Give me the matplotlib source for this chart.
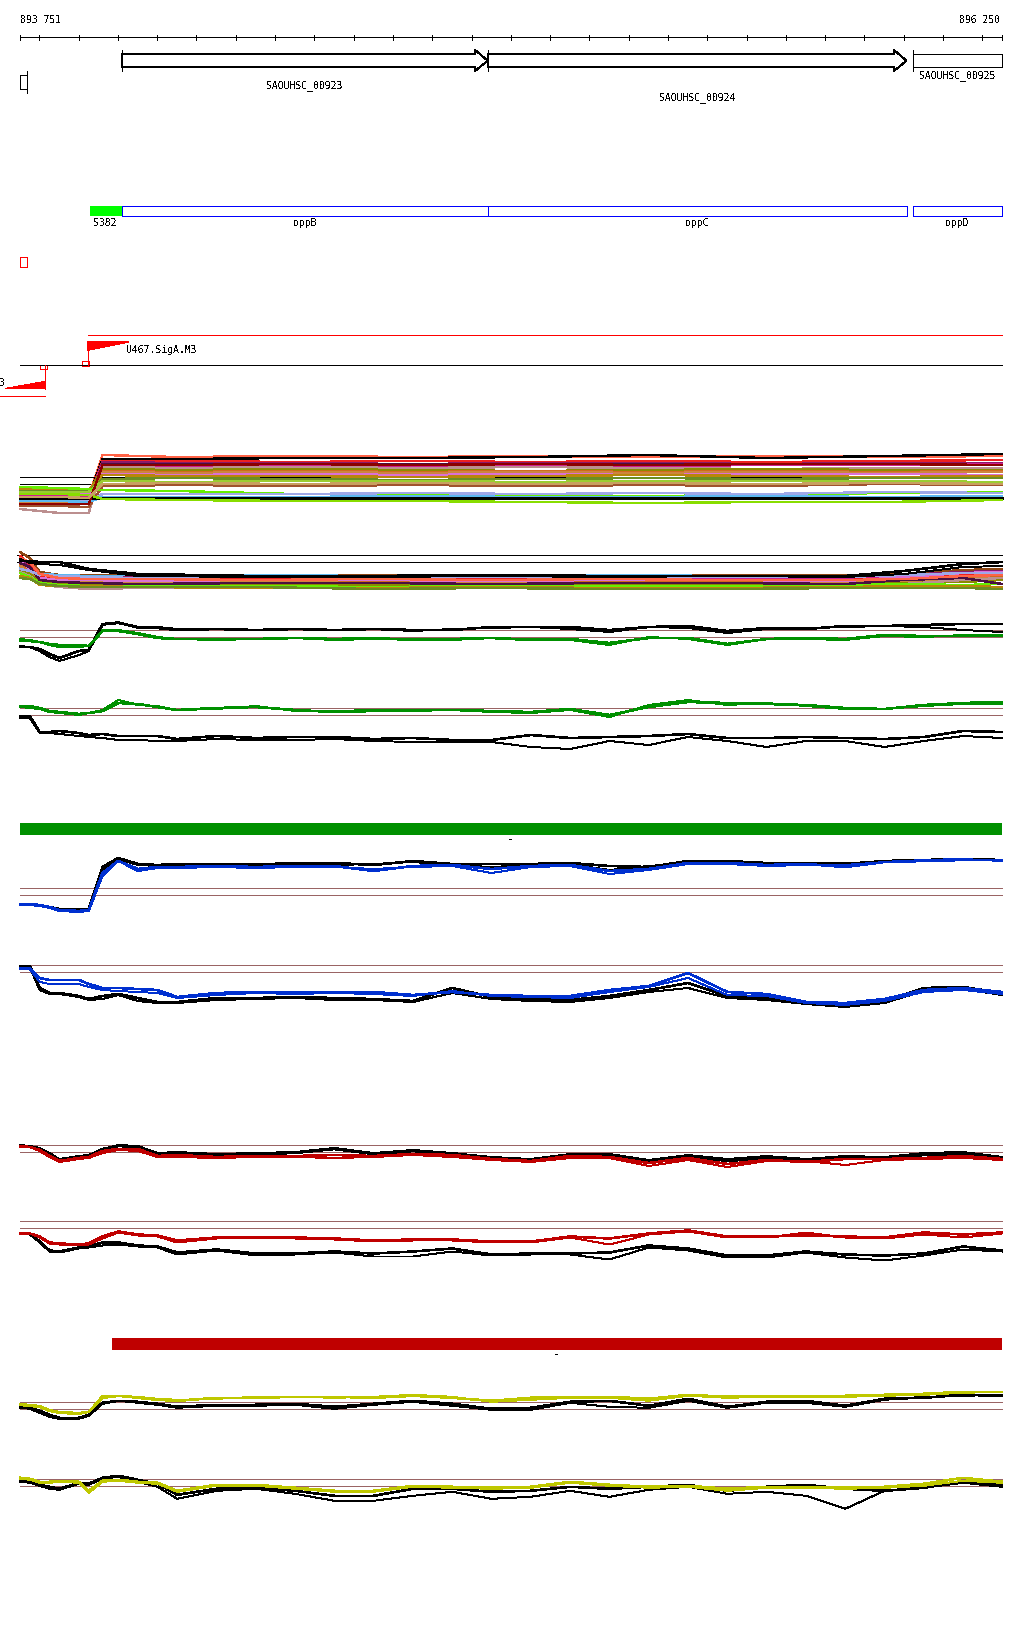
#!/usr/bin/env python3
"""Genome browser view of the opp operon region (893 751 - 896 250)."""
import matplotlib
matplotlib.use("Agg")
import matplotlib.pyplot as plt
from matplotlib.patches import Polygon, Rectangle

plt.rcParams["lines.antialiased"] = False
plt.rcParams["patch.antialiased"] = False
plt.rcParams["text.antialiased"] = False

# ---------------------------------------------------------------- data
START, END = 893751, 896250
TICKS = list(range(893800, 896250, 100))

GENE_NAMES = ["SAOUHSC_00923", "SAOUHSC_00924", "SAOUHSC_00925"]
GENE_STARTS = [894011, 894941, 896024]
GENE_ENDS = [894941, 896007, 896250]

OPERON_NAMES = ["S382", "oppB", "oppC", "oppD"]
OPERON_STARTS = [893929, 894011, 894941, 896024]
OPERON_ENDS = [894011, 894941, 896007, 896250]

TSS_FWD, TSS_FWD_NAME = 893924, "U467.SigA.M3"
TSS_REV, TSS_REV_NAME = 893814, "3"

GREEN_BAR = (893751, 896250)
RED_BAR = (893985, 896250)

# relative positions (bp from START) of the coverage profile samples
GRID = [0, 25, 50, 75, 100, 150, 175, 210, 250, 300, 350, 400, 500, 600, 700,
        800, 900, 1000, 1100, 1200, 1300, 1400, 1500, 1600, 1700, 1800, 1900,
        2000, 2100, 2200, 2300, 2400, 2499]
GRID1 = [0, 100, 175, 210, 400, 700, 1000, 1300, 1600, 1900, 2200, 2499]
GRID2 = [0, 25, 50, 100, 175, 300, 600, 900, 1200, 1500, 1800, 2100, 2250, 2400, 2499]

# track 1: all-condition profiles
T1_LINES = [
    [-16, -17, -17, 25, 23, 24, 23, 24, 23, 24, 23, 24],
    [-16, -16, -17, 21, 21, 22, 22, 23, 25, 22, 24, 26],
    [-18, -18, -19, 19, 19, 18, 19, 18, 19, 18, 19, 20],
    [-19, -19, -20, 18, 17, 17, 16, 17, 17, 16, 17, 17],
    [-20, -20, -21, 16, 16, 15, 16, 15, 16, 15, 16, 16],
    [-16, -16, -17, 15, 14, 15, 14, 15, 14, 15, 15, 16],
    [-29, -33, -33, 13, 12, 13, 12, 13, 12, 11, 12, 12],
    [-12, -12, -12, 11, 10, 11, 10, 9, 10, 11, 10, 10],
    [-22, -22, -22, 9, 8, 9, 8, 9, 8, 9, 8, 9],
    [-22, -22, -23, 8, 7, 8, 7, 8, 7, 8, 7, 8],
    [-14, -14, -14, 6, 5, 6, 5, 6, 5, 6, 6, 5],
    [-9, -9, -10, 5, 4, 4, 3, 4, 5, 4, 3, 4],
    [-11, -11, -11, 1, 2, 1, 0, 1, 2, 1, 2, 2],
    [-12, -12, -12, -1, -2, -1, -1, -2, -1, -1, -1, -2],
    [-26, -26, -27, -6, -5, -6, -5, -6, -5, -6, -4, -5],
    [-7, -8, -9, -10, -11, -14, -15, -16, -16, -15, -13, -12],
    [-21, -21, -21, -14, -14, -14, -13, -14, -13, -14, -12, -13],
    [-21, -21, -22, -17, -17, -17, -16, -17, -17, -16, -17, -16],
    [-18, -18, -18, -18, -18, -18, -18, -18, -18, -18, -18, -18],
    [-14, -14, -15, -19, -20, -21, -21, -22, -23, -22, -22, -20],
    [-24, -24, -24, 15, 15, 16, 15, 16, 15, 16, 16, 15],
    [-17, -17, -18, -4, -3, -4, -3, -4, -3, -4, -3, -4],
]

# track 2: all-condition profiles (second set)
T2_LINES = [
    [6, 0, -14, -17, -17, -18, -17, -17, -18, -17, -17, -17, -16, -12, -11],
    [-10, -12, -16, -17, -18, -18, -17, -18, -17, -17, -18, -18, -18, -17, -17],
    [-2, -8, -18, -19, -20, -19, -19, -19, -20, -19, -19, -20, -17, -14, -13],
    [-4, -10, -19, -21, -21, -21, -20, -21, -21, -20, -21, -21, -18, -16, -15],
    [2, -6, -18, -20, -22, -22, -21, -22, -21, -22, -22, -22, -20, -17, -16],
    [-6, -14, -21, -23, -23, -23, -24, -23, -23, -24, -23, -24, -22, -19, -18],
    [-8, -15, -22, -24, -24, -25, -24, -25, -24, -25, -25, -24, -23, -21, -20],
    [-12, -16, -24, -25, -26, -26, -27, -27, -26, -27, -27, -26, -25, -24, -22],
    [-14, -18, -26, -29, -31, -30, -28, -29, -28, -29, -29, -28, -26, -22, -20],
    [-3, -11, -20, -22, -22, -23, -22, -22, -23, -22, -22, -23, -19, -15, -14],
    [-15, -19, -25, -27, -28, -28, -28, -29, -28, -28, -28, -27, -26, -27, -26],
    [-18, -20, -27, -28, -28, -29, -30, -30, -29, -30, -30, -29, -28, -28, -29],
    [-20, -21, -26, -28, -29, -29, -29, -31, -30, -31, -31, -30, -30, -30, -31],
    [-5, -9, -22, -24, -25, -26, -25, -25, -26, -25, -25, -26, -22, -20, -26],
    [-11, -13, -17, -18, -19, -20, -19, -19, -19, -20, -19, -19, -17, -15, -15],
    [0, -4, -16, -20, -21, -21, -22, -21, -22, -21, -22, -22, -21, -18, -17],
]
T2_BLACK = [
    [-3, -3, -4, -4, -11, -16, -18, -18, -17, -18, -18, -18, -13, -6, -4],
    [-1, -5, -6, -7, -12, -18, -19, -19, -18, -19, -18, -19, -16, -9, -8],
]

# paired replicate profiles (condition colour, black reference)
T3_BLACK = [
    [-14, -14, -16, -21, -25, -18, -17, 9, 10, 6, 5, 3, 4, 3, 4, 3, 4, 3, 3, 6, 6, 6, 3, 6, 7, 2, 5, 4, 7, 7, 8, 9, 9],
    [-13, -14, -18, -24, -28, -22, -18, 8, 11, 5, 6, 4, 4, 3, 4, 3, 4, 2, 4, 5, 6, 4, 1, 6, 5, 0, 4, 5, 6, 7, 6, 3, 1],
]
T3_GREEN = [
    [-8, -8, -9, -11, -12, -12, -13, 2, 2, -1, -5, -6, -6, -6, -5, -6, -5, -7, -6, -5, -7, -6, -10, -5, -5, -11, -6, -5, -6, -2, -3, -3, -3],
    [-6, -7, -9, -12, -14, -14, -13, 3, 3, 0, -4, -6, -7, -6, -5, -7, -6, -6, -7, -5, -6, -7, -12, -4, -6, -12, -6, -6, -7, -3, -4, -2, -2],
]
T4_BLACK = [
    [-5, -5, -21, -21, -20, -22, -24, -23, -25, -25, -25, -28, -25, -27, -26, -26, -28, -27, -29, -29, -24, -27, -26, -25, -23, -27, -27, -26, -27, -28, -26, -20, -21],
    [-7, -7, -22, -22, -23, -25, -26, -27, -29, -29, -30, -30, -28, -29, -29, -28, -30, -31, -31, -31, -36, -38, -30, -34, -26, -30, -36, -30, -30, -36, -30, -25, -27],
]
T4_GREEN = [
    [5, 5, 3, 0, -1, -3, -2, 0, 8, 7, 4, 1, 3, 4, 1, -1, 0, 1, 1, 0, -1, 2, -4, 4, 9, 8, 7, 6, 3, 2, 6, 8, 9],
    [4, 3, 2, -1, -2, -4, -2, 1, 11, 6, 5, 1, 2, 5, 0, 0, 1, 0, 1, -1, -2, 1, -6, 6, 11, 6, 8, 5, 2, 2, 5, 7, 7],
]
T5_BLACK = [
    [-13, -13, -14, -16, -18, -18, -18, 24, 33, 27, 26, 27, 27, 26, 27, 28, 26, 30, 27, 27, 27, 28, 25, 24, 30, 30, 28, 28, 27, 30, 31, 32, 31],
    [-14, -14, -15, -17, -19, -19, -19, 20, 32, 26, 25, 26, 26, 27, 28, 26, 27, 29, 26, 24, 26, 27, 21, 25, 28, 29, 27, 26, 28, 29, 30, 32, 30],
]
T5_BLUE = [
    [-13, -13, -14, -16, -19, -20, -19, 18, 30, 22, 24, 24, 25, 24, 25, 25, 20, 25, 26, 22, 25, 26, 20, 22, 28, 28, 26, 27, 24, 29, 30, 31, 31],
    [-14, -14, -15, -17, -20, -21, -20, 15, 30, 20, 23, 23, 24, 23, 24, 24, 22, 24, 25, 18, 24, 25, 17, 21, 27, 27, 25, 26, 26, 29, 31, 32, 30],
]
T6_BLACK = [
    [2, 2, -20, -25, -25, -28, -31, -28, -26, -30, -34, -34, -30, -30, -29, -30, -31, -33, -20, -29, -31, -32, -28, -22, -15, -28, -30, -35, -38, -33, -20, -19, -25],
    [1, 1, -22, -26, -26, -29, -32, -31, -27, -33, -35, -35, -32, -31, -30, -32, -32, -34, -25, -31, -33, -34, -30, -24, -20, -30, -32, -36, -39, -35, -23, -21, -27],
]
T6_BLUE = [
    [0, 0, -10, -12, -12, -12, -16, -20, -20, -21, -22, -29, -25, -24, -24, -24, -24, -27, -24, -27, -28, -28, -22, -18, -5, -24, -26, -34, -35, -31, -22, -20, -24],
    [-1, -1, -14, -16, -16, -16, -19, -22, -23, -24, -25, -30, -27, -25, -26, -25, -26, -28, -23, -28, -29, -30, -24, -19, -10, -27, -28, -35, -37, -33, -24, -22, -26],
]
T7_BLACK = [
    [2, 2, -1, -6, -12, -9, -8, -1, 2, 1, -6, -5, -7, -6, -5, -1, -6, -3, -6, -10, -12, -7, -7, -14, -8, -13, -10, -13, -9, -10, -7, -6, -10],
    [3, 2, 0, -5, -11, -8, -7, -1, 3, 2, -5, -4, -6, -5, -4, 0, -5, -2, -5, -9, -11, -6, -6, -12, -7, -11, -8, -11, -8, -9, -5, -4, -9],
]
T7_RED = [
    [2, 1, -2, -8, -13, -10, -9, -3, -1, -1, -8, -7, -9, -8, -8, -7, -8, -6, -7, -11, -13, -8, -9, -15, -10, -16, -12, -14, -11, -11, -10, -8, -11],
    [1, 1, -3, -9, -14, -11, -10, -5, -2, -3, -9, -9, -10, -9, -9, -10, -9, -7, -9, -12, -14, -10, -10, -18, -12, -19, -13, -13, -17, -12, -11, -10, -12],
]
T8_BLACK = [
    [-9, -9, -17, -26, -27, -23, -22, -18, -18, -21, -22, -28, -25, -29, -29, -27, -29, -27, -24, -30, -29, -29, -28, -21, -24, -31, -31, -27, -30, -31, -29, -22, -26],
    [-9, -10, -18, -27, -28, -24, -23, -21, -20, -22, -23, -30, -26, -31, -30, -28, -32, -32, -27, -31, -30, -30, -35, -23, -26, -33, -33, -28, -33, -36, -31, -25, -27],
]
T8_RED = [
    [-9, -9, -12, -18, -19, -20, -19, -12, -7, -10, -11, -16, -13, -13, -13, -14, -16, -15, -15, -17, -17, -12, -14, -9, -6, -12, -12, -11, -12, -13, -8, -10, -8],
    [-9, -9, -13, -19, -20, -21, -20, -14, -8, -11, -12, -18, -14, -13, -14, -15, -17, -16, -16, -18, -18, -13, -20, -10, -7, -13, -13, -8, -13, -14, -10, -13, -9],
]
T9_BLACK = [
    [-1, -2, -5, -9, -12, -12, -9, 3, 5, 4, 2, -1, 1, 1, 2, -1, 2, 5, 2, -3, -2, 4, 5, 0, 7, -1, 4, 5, 0, 7, 8, 11, 10],
    [-2, -3, -7, -11, -13, -13, -10, 2, 5, 3, 1, -2, 0, 0, 1, -3, 1, 4, 0, -4, -4, 3, -1, -2, 5, -2, 3, 3, -1, 6, 9, 10, 11],
]
T9_YELLOW = [
    [1, 0, -1, -5, -7, -8, -6, 8, 10, 8, 6, 5, 8, 8, 9, 9, 8, 10, 8, 5, 8, 9, 9, 7, 11, 9, 10, 10, 10, 11, 12, 14, 14],
    [2, 1, 0, -4, -6, -7, -6, 10, 10, 9, 7, 6, 7, 9, 9, 8, 9, 11, 9, 4, 6, 8, 8, 5, 10, 8, 9, 9, 9, 10, 11, 13, 14],
]
T10_BLACK = [
    [2, 1, -2, -4, -6, 0, -1, 5, 7, 3, -1, -12, -6, -5, -8, -13, -13, -6, -6, -9, -8, -4, -6, -4, -2, -8, -4, -2, -6, -8, -5, 2, -2],
    [1, 0, -3, -6, -7, -1, -2, 4, 6, 1, -4, -16, -8, -6, -11, -18, -18, -13, -9, -16, -14, -8, -14, -7, -4, -11, -9, -13, -26, -8, -5, 0, -4],
]
T10_YELLOW = [
    [5, 4, 1, 1, 2, 1, -8, 2, 3, 1, 0, -8, -2, -2, -5, -8, -8, -3, -4, -5, -4, 1, -2, -4, -3, -6, -4, -4, -5, -4, -1, 5, 1],
    [4, 3, 0, 0, 1, 0, -10, 1, 2, 0, -1, -9, -3, -3, -6, -9, -9, -4, -5, -6, -5, 0, -3, -5, -4, -8, -5, -5, -6, -5, -3, 2, 0],
]

# ---------------------------------------------------------------- layout / style
W, H = 1024, 1640
LEFT_PX, RIGHT_PX = 20, 1002
BP_PER_PX = (END - START) / (RIGHT_PX - LEFT_PX)
XMIN = START - LEFT_PX * BP_PER_PX
XMAX = START + (W - LEFT_PX) * BP_PER_PX

MONO = dict(family="DejaVu Sans Mono", fontsize=7, color="black")
LW = 0.7          # ~1 px
LW_THICK = 1.15   # ~1.6 px
REF = "#9a6464"
GREEN = "#009000"
BLUE = "#0030d0"
RED = "#c00000"
YELLOW = "#bfc800"

T1_COLORS = ["#ff6347", "black", "#ee2020", "#8b1a6b", "#4a1040", "#d02090",
             "#bc8f8f", "#8b8b00", "#d2691e", "#cd853f", "#da70d6", "#b8860b",
             "#6b8e23", "#9acd32", "#a0522d", "#66ee00", "#9fa8e8", "#5cb8f0",
             "black", "#88dd00", "#8b0000", "#c8a060"]
T2_COLORS = ["#8b4513", "#5cb8f0", "#8b1a6b", "#d02090", "#ee2020", "#d2691e",
             "#cd853f", "#8b8b00", "#bc8f8f", "#da70d6", "#66ee00", "#b8860b",
             "#6b8e23", "#4a1040", "#9fa8e8", "#ff6347"]


def px(x):
    """Horizontal pixel offset -> genomic coordinate (layout helper)."""
    return XMIN + x * BP_PER_PX


def track_axes(fig, mid_px, half=45):
    ax = fig.add_axes([0, 1 - (mid_px + half) / H, 1, 2 * half / H])
    ax.set_xlim(XMIN, XMAX)
    ax.set_ylim(-half, half)
    ax.axis("off")
    ax.patch.set_alpha(0)
    return ax


def draw_pair(ax, grid, black, colored, color):
    x = [START + g for g in grid]
    ax.hlines([-3.5, 3.5], START, END, color=REF, lw=LW)
    for vals, lw in zip(black, (LW_THICK, LW)):
        ax.plot(x, vals, color="black", lw=lw)
    for vals, lw in zip(colored, (LW_THICK, LW)):
        ax.plot(x, vals, color=color, lw=lw)


fig = plt.figure(figsize=(W / 100, H / 100), dpi=100)
fig.patch.set_facecolor("white")

# ---- annotation overlay in pixel rows
ax = fig.add_axes([0, 0, 1, 1])
ax.set_xlim(XMIN, XMAX)
ax.set_ylim(H, 0)
ax.axis("off")

ax.text(START, 20, "893 751", ha="left", va="center", **MONO)
ax.text(END - 2 * BP_PER_PX, 20, "896 250", ha="right", va="center", **MONO)
ax.hlines(38.3, START, END, color="black", lw=LW)
ax.vlines([START] + TICKS + [END], 35.5, 41, color="black", lw=LW)

# gene arrows
head = 12.5 * BP_PER_PX
for name, s, e in zip(GENE_NAMES, GENE_STARTS, GENE_ENDS):
    ax.vlines(s, 51, 72, color="black", lw=LW)
    if e < END:
        hb = e - head
        pts = [(s, 55.3), (hb, 55.3), (hb, 51), (e, 61.7), (hb, 72), (hb, 68.3), (s, 68.3)]
        ax.add_patch(Polygon(pts, closed=True, fill=False, ec="black", lw=LW))
    else:
        ax.add_patch(Rectangle((s, 55.3), e - s, 13, fill=False, ec="black", lw=LW))
label_y = [85.7, 97.3, 75.3]
for name, s, e, y in zip(GENE_NAMES, GENE_STARTS, GENE_ENDS, label_y):
    ax.text((s + e) / 2, y, name, ha="center", va="center", **MONO)

# truncated gene at the left border
ax.add_patch(Rectangle((px(20), 76), 6.7 * BP_PER_PX, 14, fill=False, ec="black", lw=LW))
ax.vlines(px(26.7), 72, 94, color="black", lw=LW)

# operon / transcript row
for i, (name, s, e) in enumerate(zip(OPERON_NAMES, OPERON_STARTS, OPERON_ENDS)):
    if i == 0:
        ax.add_patch(Rectangle((s, 207.3), e - s, 10, fc="#00ff00", ec="none"))
        ax.text(s + 3 * BP_PER_PX, 223.3, name, ha="left", va="center", **MONO)
    else:
        ax.add_patch(Rectangle((s, 207.3), e - s, 10, fill=False, ec="#0000ff", lw=LW))
        ax.text((s + e) / 2, 223.3, name, ha="center", va="center", **MONO)

ax.add_patch(Rectangle((px(20), 258.3), 7 * BP_PER_PX, 10, fill=False, ec="red", lw=LW))

# TSS track
ax.hlines(336, TSS_FWD, END, color="red", lw=LW)
ax.hlines(366, START, END, color="black", lw=LW)
ax.vlines(TSS_FWD, 343, 366, color="red", lw=LW)
ax.add_patch(Polygon([(TSS_FWD, 343), (TSS_FWD + 40 * BP_PER_PX, 343), (TSS_FWD, 351)],
                     closed=True, fc="red", ec="red", lw=0.4))
ax.add_patch(Rectangle((TSS_FWD - 5.5 * BP_PER_PX, 362.3), 7 * BP_PER_PX, 4.2,
                       fill=False, ec="red", lw=LW))
ax.text(TSS_FWD + 38 * BP_PER_PX, 350.3, TSS_FWD_NAME, ha="left", va="center", **MONO)

ax.vlines(TSS_REV, 366, 389.7, color="red", lw=LW)
ax.add_patch(Polygon([(TSS_REV, 389.7), (TSS_REV - 39.7 * BP_PER_PX, 389.7), (TSS_REV, 382.7)],
                     closed=True, fc="red", ec="red", lw=0.4))
ax.add_patch(Rectangle((TSS_REV - 4.5 * BP_PER_PX, 366), 6.5 * BP_PER_PX, 4,
                       fill=False, ec="red", lw=LW))
ax.hlines(397.3, px(0), TSS_REV, color="red", lw=LW)
ax.text(px(5.5), 383, TSS_REV_NAME, ha="right", va="center", **MONO)

# condition bars
ax.add_patch(Rectangle((GREEN_BAR[0], 824), GREEN_BAR[1] - GREEN_BAR[0], 11.7, fc=GREEN, ec="none"))
ax.text(sum(GREEN_BAR) / 2, 840, "-", ha="center", va="center",
        family="DejaVu Sans Mono", fontsize=9, color="black")
ax.add_patch(Rectangle((RED_BAR[0], 1339), RED_BAR[1] - RED_BAR[0], 11.7, fc="#bf0000", ec="none"))
ax.text(sum(RED_BAR) / 2, 1355, "-", ha="center", va="center",
        family="DejaVu Sans Mono", fontsize=9, color="black")

# ---- multi-condition tracks
t1 = track_axes(fig, 481)
t1.hlines([-3.5, 3.5], START, END, color="black", lw=LW)
x1 = [START + g for g in GRID1]
for vals, c in zip(T1_LINES, T1_COLORS):
    t1.plot(x1, vals, color=c, lw=1.0)

t2 = track_axes(fig, 559)
t2.hlines([-3.5, 3.5], px(17), END, color="black", lw=LW)
x2 = [START + g for g in GRID2]
for vals, c in zip(T2_LINES, T2_COLORS):
    t2.plot(x2, vals, color=c, lw=1.0)
for vals, lw in zip(T2_BLACK, (LW_THICK, LW)):
    t2.plot(x2, vals, color="black", lw=lw)

# ---- paired tracks
draw_pair(track_axes(fig, 634), GRID, T3_BLACK, T3_GREEN, GREEN)
draw_pair(track_axes(fig, 712), GRID, T4_BLACK, T4_GREEN, GREEN)
draw_pair(track_axes(fig, 892), GRID, T5_BLACK, T5_BLUE, BLUE)
draw_pair(track_axes(fig, 969), GRID, T6_BLACK, T6_BLUE, BLUE)
draw_pair(track_axes(fig, 1149), GRID, T7_BLACK, T7_RED, RED)
draw_pair(track_axes(fig, 1225.5), GRID, T8_BLACK, T8_RED, RED)
draw_pair(track_axes(fig, 1406.8), GRID, T9_BLACK, T9_YELLOW, YELLOW)
draw_pair(track_axes(fig, 1483.8), GRID, T10_BLACK, T10_YELLOW, YELLOW)

fig.savefig("out.png", dpi=100, facecolor="white")
